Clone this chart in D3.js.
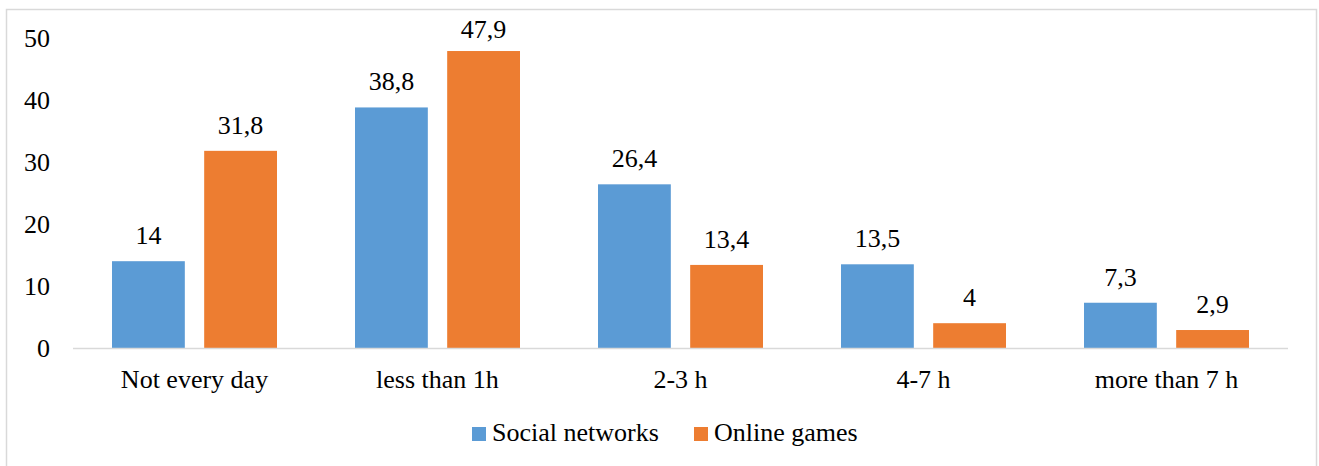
<!DOCTYPE html>
<html>
<head>
<meta charset="utf-8">
<script src="https://d3js.org/d3.v7.min.js"></script>
<style>
  body { margin: 0; background: #fff; }
</style>
</head>
<body>
<svg id="chart" width="1319" height="466"></svg>
<script>
// data
const categories = ["Not every day", "less than 1h", "2-3 h", "4-7 h", "more than 7 h"];
const seriesNames = ["Social networks", "Online games"];
const socialNetworks = [14, 38.8, 26.4, 13.5, 7.3];
const onlineGames = [31.8, 47.9, 13.4, 4, 2.9];
const yTicks = [0, 10, 20, 30, 40, 50];
const colors = ["#5B9BD5", "#ED7D31"];

const FONT = "Liberation Serif";
const FSIZE = 26;

const svg = d3.select("#chart");

//small helper so every label gets the same font
function label(sel) {
  return sel.attr("font-family", FONT)
      .attr("font-size", FSIZE)
      .attr("fill", "#000");
}

//frame round the whole chart
svg.append("rect")
    .attr("x", 6.5).attr("y", 9.5)
    .attr("width", 1310).attr("height", 470)
    .attr("fill", "none")
    .attr("stroke", "#d9d9d9")
    .attr("stroke-width", 1.5);

const x0 = d3.scaleBand().domain(categories).range([73, 1288]);
const x1 = d3.scaleBand().domain(seriesNames)
    .range([39, x0.bandwidth() - 39])
    .paddingInner(0.21);
const y = d3.scaleLinear().domain([0, 50]).range([348, 38]);

const rows = categories.map((c, i) => ({cat: c, values: [socialNetworks[i], onlineGames[i]]}));

//y axis labels only, no line
svg.append("g").selectAll("text")
    .data(yTicks)
    .join("text")
    .call(label)
    .attr("x", 50)
    .attr("y", d => y(d))
    .attr("dy", "0.35em")
    .attr("text-anchor", "end")
    .text(d => d);

//bars + value labels
const groups = svg.append("g").selectAll("g")
    .data(rows)
    .join("g")
    .attr("transform", d => `translate(${x0(d.cat)},0)`);

groups.selectAll("rect")
    .data(d => d.values.map((v, i) => ({s: seriesNames[i], v: v, i: i})))
    .join("rect")
    .attr("x", d => x1(d.s))
    .attr("width", x1.bandwidth())
    .attr("y", d => y(d.v))
    .attr("height", d => y(0) - y(d.v))
    .attr("fill", d => colors[d.i]);

//labels sit 17px above the bar, but are kept inside the plot at the top
groups.selectAll("text.val")
    .data(d => d.values.map((v, i) => ({s: seriesNames[i], v: v})))
    .join("text")
    .attr("class", "val")
    .call(label)
    .attr("x", d => x1(d.s) + x1.bandwidth() / 2)
    .attr("y", d => Math.max(y(d.v) - 17, 38))
    .attr("text-anchor", "middle")
    .text(d => String(d.v).replace(".", ","));

//baseline
svg.append("line")
    .attr("x1", 73).attr("x2", 1288)
    .attr("y1", y(0) + 0.5).attr("y2", y(0) + 0.5)
    .attr("stroke", "#d9d9d9")
    .attr("stroke-width", 1.5);

//category labels
svg.append("g").selectAll("text")
    .data(categories)
    .join("text")
    .call(label)
    .attr("x", d => x0(d) + x0.bandwidth() / 2)
    .attr("y", 388)
    .attr("text-anchor", "middle")
    .text(d => d);

//legend
const legendX = [472, 694];
const legend = svg.append("g").selectAll("g")
    .data(seriesNames)
    .join("g")
    .attr("transform", (d, i) => `translate(${legendX[i]},427)`);

legend.append("rect")
    .attr("width", 14).attr("height", 14)
    .attr("fill", (d, i) => colors[i]);

legend.append("text")
    .call(label)
    .attr("x", 20).attr("y", 14)
    .text(d => d);
</script>
</body>
</html>
